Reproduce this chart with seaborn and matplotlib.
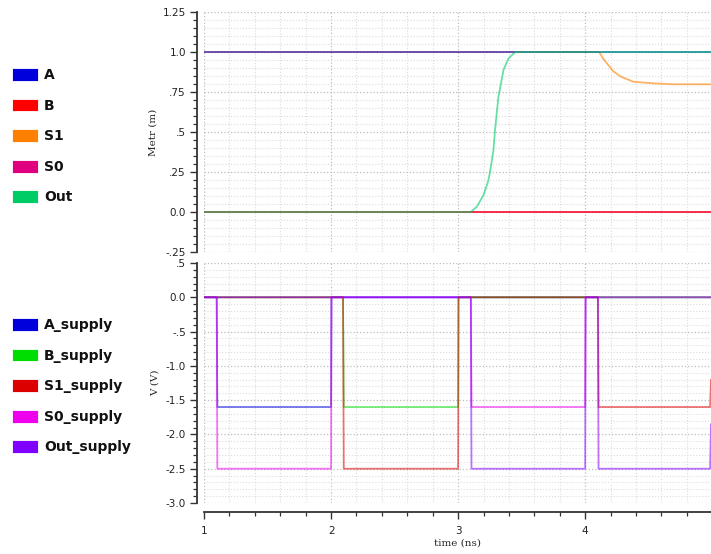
import numpy as np
import pandas as pd
import seaborn as sns
import matplotlib
matplotlib.use("Agg")
import matplotlib.pyplot as plt
from matplotlib.patches import Patch
from matplotlib.ticker import MultipleLocator, FixedLocator, FixedFormatter

# ---- logic outputs (m) ----
top_names = ["A", "B", "S1", "S0", "Out"]
top_colors = ["#0000dd", "#ff0000", "#ff8000", "#e0007f", "#00cc66"]

t_const = [1.0, 4.99]
A_val = [1.0, 1.0]
B_val = [0.0, 0.0]
S0_val = [0.0, 0.0]

S1_t = [1.0, 4.11, 4.14, 4.17, 4.22, 4.28, 4.38, 4.54, 4.70, 4.99]
S1_val = [1.0, 1.0, 0.96, 0.93, 0.88, 0.846, 0.814, 0.804, 0.798, 0.798]

Out_t = [1.0, 3.10, 3.147, 3.20, 3.239, 3.258, 3.278, 3.29, 3.317, 3.357, 3.396, 3.45, 4.99]
Out_val = [0.0, 0.0, 0.033, 0.106, 0.20, 0.283, 0.388, 0.51, 0.72, 0.888, 0.96, 1.0, 1.0]

# ---- supply voltages (V) ----
bot_names = ["A_supply", "B_supply", "S1_supply", "S0_supply", "Out_supply"]
bot_colors = ["#0000dd", "#00dd00", "#dd0000", "#ee00ee", "#8000ff"]

A_sup_t = [1.0, 1.10, 1.105, 2.0, 2.003, 4.99]
A_sup_v = [0.0, 0.0, -1.6, -1.6, 0.0, 0.0]
B_sup_t = [1.0, 2.094, 2.10, 3.0, 3.003, 4.99]
B_sup_v = [0.0, 0.0, -1.6, -1.6, 0.0, 0.0]
S1_sup_t = [1.0, 2.094, 2.10, 3.0, 3.003, 4.10, 4.105, 4.983, 4.99]
S1_sup_v = [0.0, 0.0, -2.5, -2.5, 0.0, 0.0, -1.6, -1.6, -1.2]
S0_sup_t = [1.0, 1.10, 1.105, 2.0, 2.003, 3.10, 3.105, 4.0, 4.003, 4.99]
S0_sup_v = [0.0, 0.0, -2.5, -2.5, 0.0, 0.0, -1.6, -1.6, 0.0, 0.0]
Out_sup_t = [1.0, 3.10, 3.105, 4.0, 4.003, 4.10, 4.105, 4.983, 4.99]
Out_sup_v = [0.0, 0.0, -2.5, -2.5, 0.0, 0.0, -2.5, -2.5, -1.85]

top_ticks = [1.25, 1.0, 0.75, 0.5, 0.25, 0.0, -0.25]
top_ticklabels = ["1.25", "1.0", ".75", ".5", ".25", "0.0", "-.25"]
bot_ticks = [0.5, 0.0, -0.5, -1.0, -1.5, -2.0, -2.5, -3.0]
bot_ticklabels = [".5", "0.0", "-.5", "-1.0", "-1.5", "-2.0", "-2.5", "-3.0"]
x_ticks = [1, 2, 3, 4]
x_ticklabels = ["1", "2", "3", "4"]


def long_frame(series):
    parts = []
    for name, t, v in series:
        parts.append(pd.DataFrame({"t": t, "v": v, "signal": name}))
    return pd.concat(parts, ignore_index=True)


top_df = long_frame([
    ("S0", t_const, S0_val),
    ("B", t_const, B_val),
    ("S1", S1_t, S1_val),
    ("A", t_const, A_val),
    ("Out", Out_t, Out_val),
])
bot_df = long_frame([
    ("A_supply", A_sup_t, A_sup_v),
    ("B_supply", B_sup_t, B_sup_v),
    ("S1_supply", S1_sup_t, S1_sup_v),
    ("S0_supply", S0_sup_t, S0_sup_v),
    ("Out_supply", Out_sup_t, Out_sup_v),
])

sns.set_theme(style="ticks")
plt.rcParams["font.family"] = ["DejaVu Sans"]

fig = plt.figure(figsize=(7.11, 5.54), dpi=100)
ax_top = fig.add_axes([204 / 711, 1 - 252 / 554, 1 - 204 / 711, 240 / 554])
ax_bot = fig.add_axes([204 / 711, 1 - 503 / 554, 1 - 204 / 711, 240 / 554])

top_pal = dict(zip(top_names, top_colors))
bot_pal = dict(zip(bot_names, bot_colors))

sns.lineplot(data=top_df, x="t", y="v", hue="signal",
             hue_order=["S0", "B", "S1", "A", "Out"], palette=top_pal,
             estimator=None, sort=False, legend=False, alpha=0.6,
             linewidth=1.3, ax=ax_top)
sns.lineplot(data=bot_df, x="t", y="v", hue="signal",
             hue_order=bot_names, palette=bot_pal,
             estimator=None, sort=False, legend=False, alpha=0.55,
             linewidth=1.3, ax=ax_bot)

for ax in (ax_top, ax_bot):
    ax.set_xlim(1.0, 4.99)
    ax.xaxis.set_major_locator(FixedLocator(x_ticks))
    ax.xaxis.set_minor_locator(MultipleLocator(0.2))
    ax.set_axisbelow(True)
    ax.grid(which="major", ls=":", color="#bdbdbd", lw=0.9)
    ax.grid(which="minor", ls=":", color="#dcdcdc", lw=0.8)
    ax.tick_params(which="major", length=5, width=1.0, color="#333333",
                   labelsize=7.5, labelcolor="#222222", pad=3)
    ax.tick_params(which="minor", length=3, width=0.9, color="#333333")
    for s in ("top", "right"):
        ax.spines[s].set_visible(False)
    ax.spines["left"].set_position(("outward", 5))
    ax.spines["left"].set_color("#333333")
    ax.spines["left"].set_linewidth(1.3)

ax_top.set_ylim(-0.25, 1.25)
ax_top.yaxis.set_major_locator(FixedLocator(top_ticks))
ax_top.yaxis.set_major_formatter(FixedFormatter(top_ticklabels))
ax_top.yaxis.set_minor_locator(MultipleLocator(0.05))
ax_top.spines["bottom"].set_visible(False)
ax_top.tick_params(axis="x", which="both", bottom=False, labelbottom=False)
ax_top.set_xlabel("")
ax_top.set_ylabel("Metr (m)", family="DejaVu Serif", fontsize=7.5, labelpad=4)

ax_bot.set_ylim(-3.0, 0.5)
ax_bot.yaxis.set_major_locator(FixedLocator(bot_ticks))
ax_bot.yaxis.set_major_formatter(FixedFormatter(bot_ticklabels))
ax_bot.yaxis.set_minor_locator(MultipleLocator(0.1))
ax_bot.spines["bottom"].set_position(("outward", 6.5))
ax_bot.spines["bottom"].set_color("#333333")
ax_bot.spines["bottom"].set_linewidth(1.3)
ax_bot.xaxis.set_major_formatter(FixedFormatter(x_ticklabels))
ax_bot.tick_params(axis="x", which="major", pad=5)
ax_bot.set_xlabel("time (ns)", family="DejaVu Serif", fontsize=7.5, labelpad=2)
ax_bot.set_ylabel("V (V)", family="DejaVu Serif", fontsize=7.5, labelpad=4)


def side_legend(names, colors, top_y):
    handles = [Patch(facecolor=c, edgecolor="#ffffff", linewidth=0.6) for c in colors]
    leg = fig.legend(handles, names, loc="upper left",
                     bbox_to_anchor=(12 / 711, 1 - top_y / 554),
                     frameon=False, handlelength=1.85,
                     handleheight=1.05, handletextpad=0.45,
                     labelspacing=1.18, borderpad=0, borderaxespad=0,
                     prop={"size": 10, "weight": "bold"})
    for txt in leg.get_texts():
        txt.set_color("#111111")
    return leg


side_legend(top_names, top_colors, 68)
side_legend(bot_names, bot_colors, 318)

fig.savefig("out.png", dpi=100)
